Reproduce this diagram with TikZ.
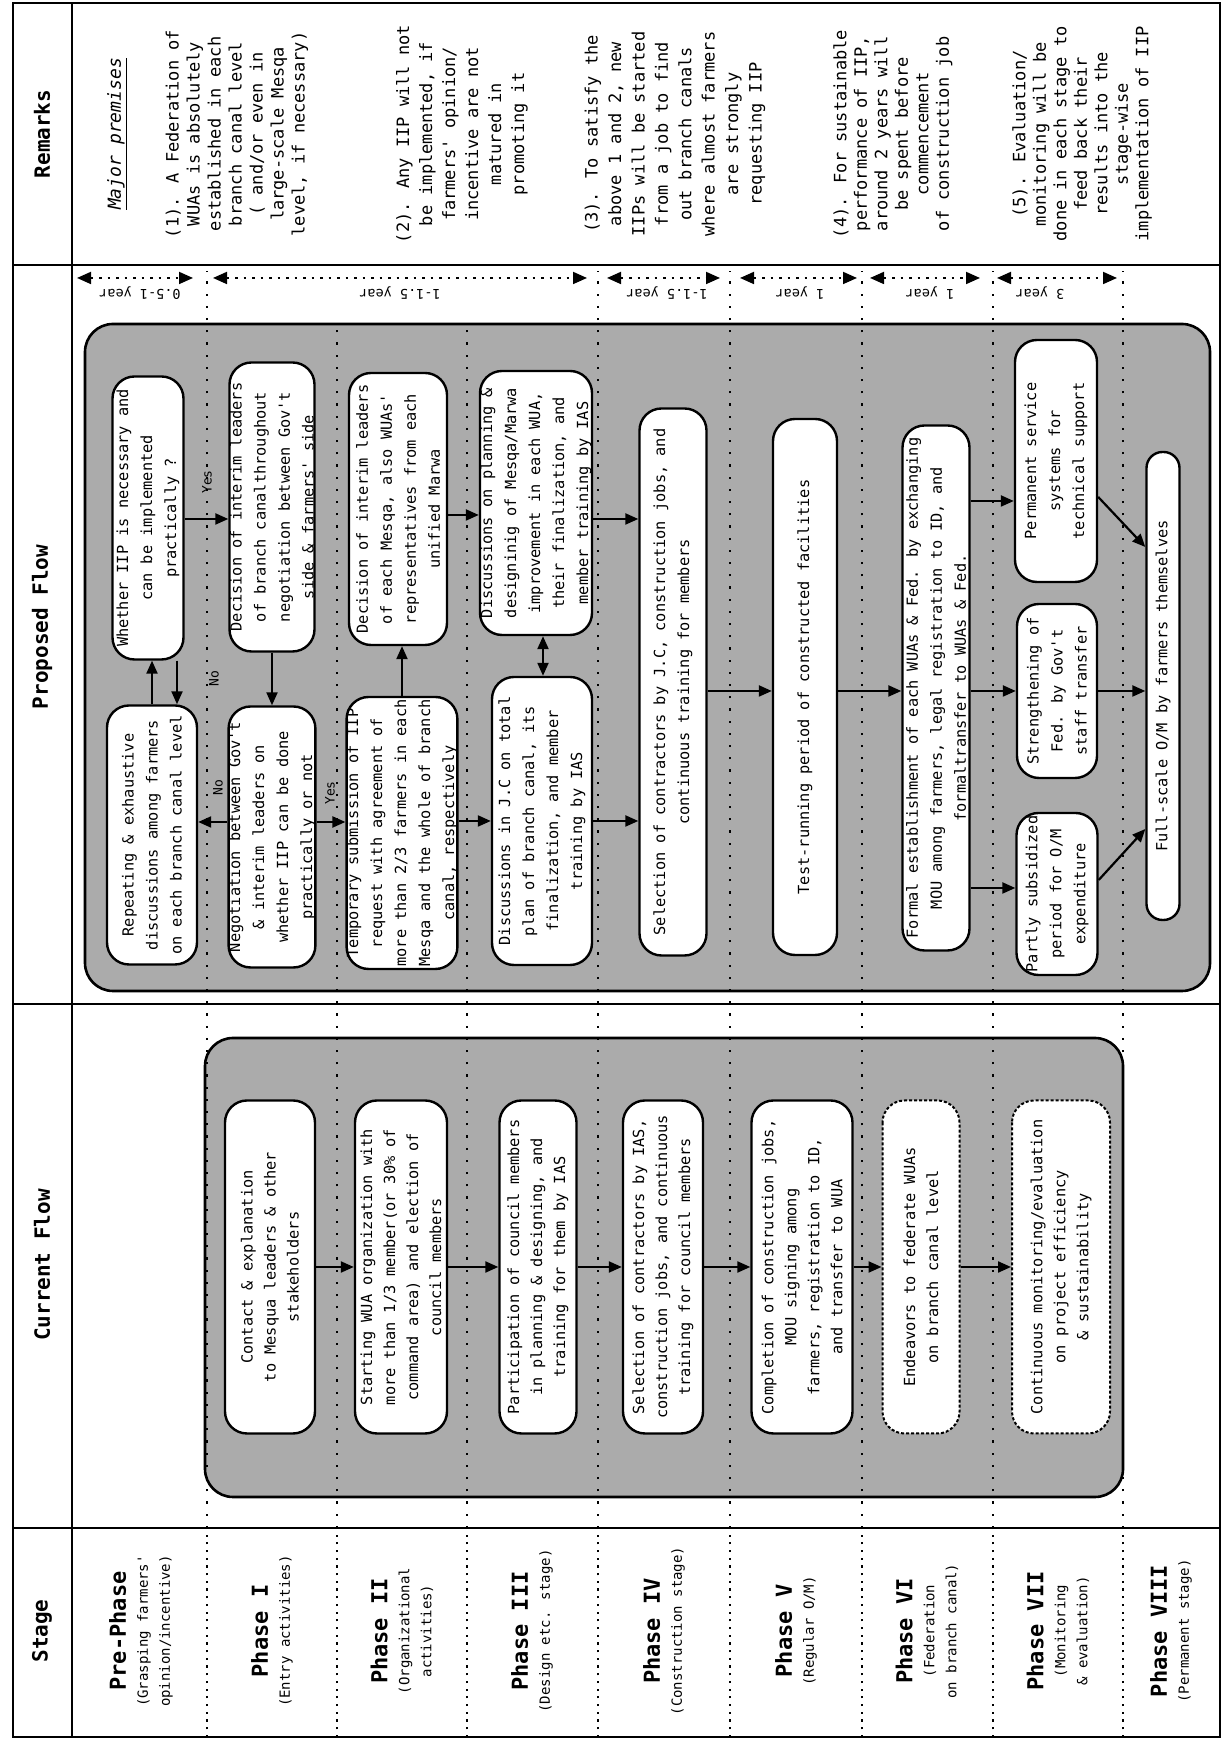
\documentclass[tikz,border=0pt]{standalone}
\usepackage{fontspec}
\setmainfont{DejaVu Sans}
\newfontfamily\monof{DejaVu Sans Mono}
\usetikzlibrary{arrows.meta,calc}
\begin{document}
\begin{tikzpicture}[x=1pt,y=-1pt]
\begin{scope}[rotate=90,transform shape,
  every node/.style={font=\monof},
  pbox/.style={draw,line width=2.4pt,fill=white,rounded corners=22pt,inner sep=0pt,align=center,
    font=\monof\fontsize{15.3}{24}\selectfont},
  cbox/.style={pbox,font=\monof\fontsize{15.3}{23}\selectfont,minimum width=333pt},
  dbox/.style={cbox,densely dashed,line width=2pt},
  arr/.style={line width=2.2pt,-{Triangle[length=13pt,width=11pt]}},
  darr/.style={line width=2.2pt,{Triangle[length=13pt,width=11pt]}-{Triangle[length=13pt,width=11pt]}},
  dur/.style={line width=1.8pt,dash pattern=on 2.5pt off 6pt,{Triangle[length=14pt,width=12pt]}-{Triangle[length=14pt,width=12pt]}},
  rowsep/.style={line width=2.2pt,dash pattern=on 2.2pt off 10pt},
  rowsepd/.style={line width=2.2pt,dash pattern=on 2.2pt off 5.5pt},
  cont/.style={draw,line width=2.6pt,fill=black!33,rounded corners=28pt},
  grid/.style={line width=1.6pt},
  head/.style={font=\monof\fontsize{21}{24}\selectfont\bfseries},
  stagel/.style={align=center,inner sep=0pt,font=\monof\fontsize{14}{22}\selectfont},
  yn/.style={font=\monof\fontsize{13}{15}\selectfont,inner sep=1pt},
  durl/.style={rotate=90,font=\monof\fontsize{13.5}{15}\selectfont,inner sep=1pt},
  rem/.style={align=center,inner sep=0pt},
]
\fill[white] (0,0) rectangle (1739,1227);
\path[use as bounding box] (0,0) rectangle (1739,1227);

% shaded containers
\draw[cont] (748,85) rectangle (1415,1210);
\draw[cont] (242,205) rectangle (701,1123);

% phase separators (dotted)
\foreach \b in {207,598,730,862,993,1123}{
  \draw[rowsepd] (2,\b) -- (211,\b);
  \draw[rowsep] (211,\b) -- (1468,\b);
}
\foreach \b in {337,467}{
  \draw[rowsepd] (2,\b) -- (211,\b);
  \draw[rowsep] (211,\b) -- (1415,\b);
}

% table grid
\draw[grid] (2,13) rectangle (1736,1220);
\draw[line width=2.4pt] (2,72) -- (1736,72);
\foreach \c in {211,735,1474}{ \draw[grid] (\c,13) -- (\c,1220); }

% headers
\node[head] (hS) at (108,42) {Stage};
\node[head] (hC) at (474,42) {Current Flow};
\node[head] (hP) at (1112,42) {Proposed Flow};
\node[head] (hR) at (1605,42) {Remarks};

% stage labels
\node[stagel] (s0) at (108,141) {{\fontsize{22}{26}\selectfont\bfseries Pre-Phase}\\(Grasping farmers'\\opinion/incentive)};
\node[stagel] (s1) at (108,272) {{\fontsize{22}{26}\selectfont\bfseries Phase I}\\(Entry activities)};
\node[stagel] (s2) at (108,402) {{\fontsize{22}{26}\selectfont\bfseries Phase II}\\(Organizational\\activities)};
\node[stagel] (s3) at (108,532) {{\fontsize{22}{26}\selectfont\bfseries Phase III}\\(Design etc. stage)};
\node[stagel] (s4) at (108,664) {{\fontsize{22}{26}\selectfont\bfseries Phase IV}\\(Construction stage)};
\node[stagel] (s5) at (108,796) {{\fontsize{22}{26}\selectfont\bfseries Phase V}\\(Regular O/M)};
\node[stagel] (s6) at (108,927) {{\fontsize{22}{26}\selectfont\bfseries Phase VI}\\(Federation\\on branch canal)};
\node[stagel] (s7) at (108,1058) {{\fontsize{22}{26}\selectfont\bfseries Phase VII}\\(Monitoring\\\& evaluation)};
\node[stagel] (s8) at (108,1171) {{\fontsize{22}{26}\selectfont\bfseries Phase VIII}\\(Permanent stage)};

% current flow boxes
\node[cbox,minimum height=90pt] (c1) at (472,270) {Contact \& explanation\\to Mesqua leaders \& other\\stakeholders};
\node[cbox,minimum height=92pt] (c2) at (472,401) {Starting WUA organization with\\more than 1/3 member(or 30\% of\\command area) and election of\\council members};
\node[cbox,minimum height=77pt] (c3) at (472,538) {Participation of council members\\in planning \& designing, and\\training for them by IAS};
\node[cbox,minimum height=80pt] (c4) at (472,663) {Selection of contractors by IAS,\\construction jobs, and continuous\\training for council members};
\node[cbox,minimum height=101pt] (c5) at (472,802) {Completion of  construction jobs,\\MOU signing among\\farmers, registration to ID,\\and transfer to WUA};
\node[dbox,minimum height=77pt] (c6) at (472,921) {Endeavors to federate WUAs\\on branch canal level};
\node[dbox,minimum height=98pt] (c7) at (472,1061) {Continuous monitoring/evaluation\\on project efficiency\\\& sustainability};
\draw[arr] (c1.south) -- (c2.north);
\draw[arr] (c2.south) -- (c3.north);
\draw[arr] (c3.south) -- (c4.north);
\draw[arr] (c4.south) -- (c5.north);
\draw[arr] (c5.south) -- (c6.north);
\draw[arr] (c6.south) -- (c7.north);

% proposed flow boxes
\node[pbox,minimum width=283pt,minimum height=71pt] (A) at (1221,148) {Whether IIP is necessary and\\can be implemented\\practically ?};
\node[pbox,minimum width=259pt,minimum height=90pt] (B) at (904,152) {Repeating \& exhaustive\\discussions among farmers\\on each branch canal level};
\node[pbox,minimum width=289pt,minimum height=85pt] (C) at (1232,272) {Decision of interim leaders\\of branch canalthroughout\\negotiation between Gov't\\side \& farmers' side};
\node[pbox,minimum width=261pt,minimum height=85pt] (D) at (902,272) {Negotiation between Gov't\\\& interim leaders on\\whether IIP can be done\\practically or not};
\node[pbox,minimum width=272pt,minimum height=98pt] (E) at (1230,398) {Decision of interim leaders\\of each Mesqa, also WUAs'\\representatives from each\\unified Marwa};
\node[pbox,minimum width=272pt,minimum height=109pt] (F) at (906,402) {Temporary submission of IIP\\request with agreement of\\more than 2/3 farmers in each\\Mesqa and the whole of branch\\canal, respectively};
\node[pbox,minimum width=264pt,minimum height=112pt] (G) at (1236,536) {Discussions on planning \&\\designinig of Mesqa/Marwa\\improvement in each WUA,\\their finalization, and\\member training by IAS};
\node[pbox,minimum width=288pt,minimum height=100pt] (H) at (918,542) {Discussions in J.C on total\\plan of branch canal, its\\finalization, and member\\training by IAS};
\node[pbox,minimum width=547pt,minimum height=67pt] (I) at (1057,673) {Selection of contractors by J.C, construction jobs, and\\continuous training for members};
\node[pbox,minimum width=536pt,minimum height=64pt] (J) at (1052,805) {Test-running period of constructed facilities};
\node[pbox,minimum width=525pt,minimum height=67pt] (K) at (1051,936) {Formal establishment of each WUAs \& Fed. by exchanging\\MOU among farmers, legal registration to ID, and\\formaltransfer to WUAs \& Fed.};
\node[pbox,minimum width=242pt,minimum height=82pt] (N) at (1278,1056) {Permanent service\\systems for\\technical support};
\node[pbox,minimum width=174pt,minimum height=80pt] (M) at (1048,1057) {Strengthening of\\Fed. by Gov't\\staff transfer};
\node[pbox,minimum width=162pt,minimum height=81pt] (L) at (845,1057) {Partly subsidized\\period for O/M\\expenditure};
\node[pbox,rounded corners=16pt,minimum width=468pt,minimum height=33pt] (O) at (1053,1163) {Full-scale O/M by farmers themselves};

% proposed flow arrows
\draw[arr] ($(A.south)+(-1,0)$) -- ($(C.north)+(-12,0)$);
\draw[arr] (C.west) -- (D.east);
\draw[arr] ($(D.north)+(15,0)$) -- ($(B.south)+(13,0)$);
\draw[arr] ($(D.south)+(15,0)$) -- ($(F.north)+(11,0)$);
\draw[arr] (F.east) -- ($(E.west)+(0,4)$);
\draw[arr] (B.east) -- ($(A.west)+(0,4)$);
\draw[arr] ($(A.west)+(0,29)$) -- ($(B.east)+(0,25)$);
\draw[arr] ($(E.south)+(-6,0)$) -- ($(G.north)+(-12,0)$);
\draw[arr] ($(F.south)+(12,0)$) -- (H.north);
\draw[darr] ($(G.west)+(0,7)$) -- ($(H.east)+(0,1)$);
\draw[arr] ($(G.south)+(-16,0)$) -- ($(I.north)+(163,0)$);
\draw[arr] (H.south) -- ($(I.north)+(-139,0)$);
\draw[arr] ($(I.south)+(-9,0)$) -- ($(J.north)+(-4,0)$);
\draw[arr] ($(J.south)+(-4,0)$) -- ($(K.north)+(-3,0)$);
\draw[arr] ($(K.south)+(187,0)$) -- ($(N.north)+(-40,0)$);
\draw[arr] ($(K.south)+(-3,0)$) -- (M.north);
\draw[arr] ($(K.south)+(-200,0)$) -- ($(L.north)+(6,0)$);
\draw[arr] (M.south) -- ($(O.north)+(-5,0)$);
\draw[arr] ($(L.south)+(14,0)$) -- ($(O.north)+(-143,0)$);
\draw[arr] ($(N.south)+(-36,0)$) -- ($(O.north)+(139,0)$);

% yes / no labels
\node[yn] (yes1) at (1257,207) {Yes};
\node[yn] (no1) at (951,218) {No};
\node[yn] (yes2) at (946,330) {Yes};
\node[yn] (no2) at (1060,214) {No};

% durations
\foreach \a/\b/\c/\t in {77/193/140/0.5-1 year,213/587/400/1-1.5 year,607/720/667/1-1.5 year,740/857/800/1 year,870/980/930/1 year,997/1117/1040/3 year}{
  \coordinate (da\a) at (1461,\a);
  \coordinate (db\a) at (1461,\b);
  \draw[dur] (da\a) -- (db\a);
  \node[durl] (dl\a) at (1446,\c) {\t};
}

% remarks
\node[font=\monof\fontsize{18}{20}\selectfont\itshape] (mp) at (1605,117) {\underline{Major premises}};
\node[rem,font=\monof\fontsize{17}{21}\selectfont] (r1) at (1605,237) {(1). A Federation of\\WUAs is absolutely\\established in each\\branch canal level\\( and/or even in\\large-scale Mesqa\\level, if necessary)};
\node[rem,font=\monof\fontsize{17}{23}\selectfont] (r2) at (1605,462) {(2). Any IIP will not\\be implemented, if\\farmers' opinion/\\incentive are not\\matured in\\promoting it};
\node[rem,font=\monof\fontsize{17}{23.4}\selectfont] (r3) at (1605,675) {(3). To satisfy the\\above 1 and 2, new\\IIPs will be started\\from a job to find\\out branch canals\\where almost farmers\\are strongly\\requesting IIP};
\node[rem,font=\monof\fontsize{17}{20.5}\selectfont] (r4) at (1605,893) {(4). For sustainable\\performance of IIP,\\around 2 years will\\be spent before\\commencement\\of construction job};
\node[rem,font=\monof\fontsize{17}{20.5}\selectfont] (r5) at (1605,1082) {(5). Evaluation/\\monitoring will be\\done in each stage to\\feed back their\\results into the\\stage-wise\\implementation of IIP};
\end{scope}
\end{tikzpicture}
\end{document}
